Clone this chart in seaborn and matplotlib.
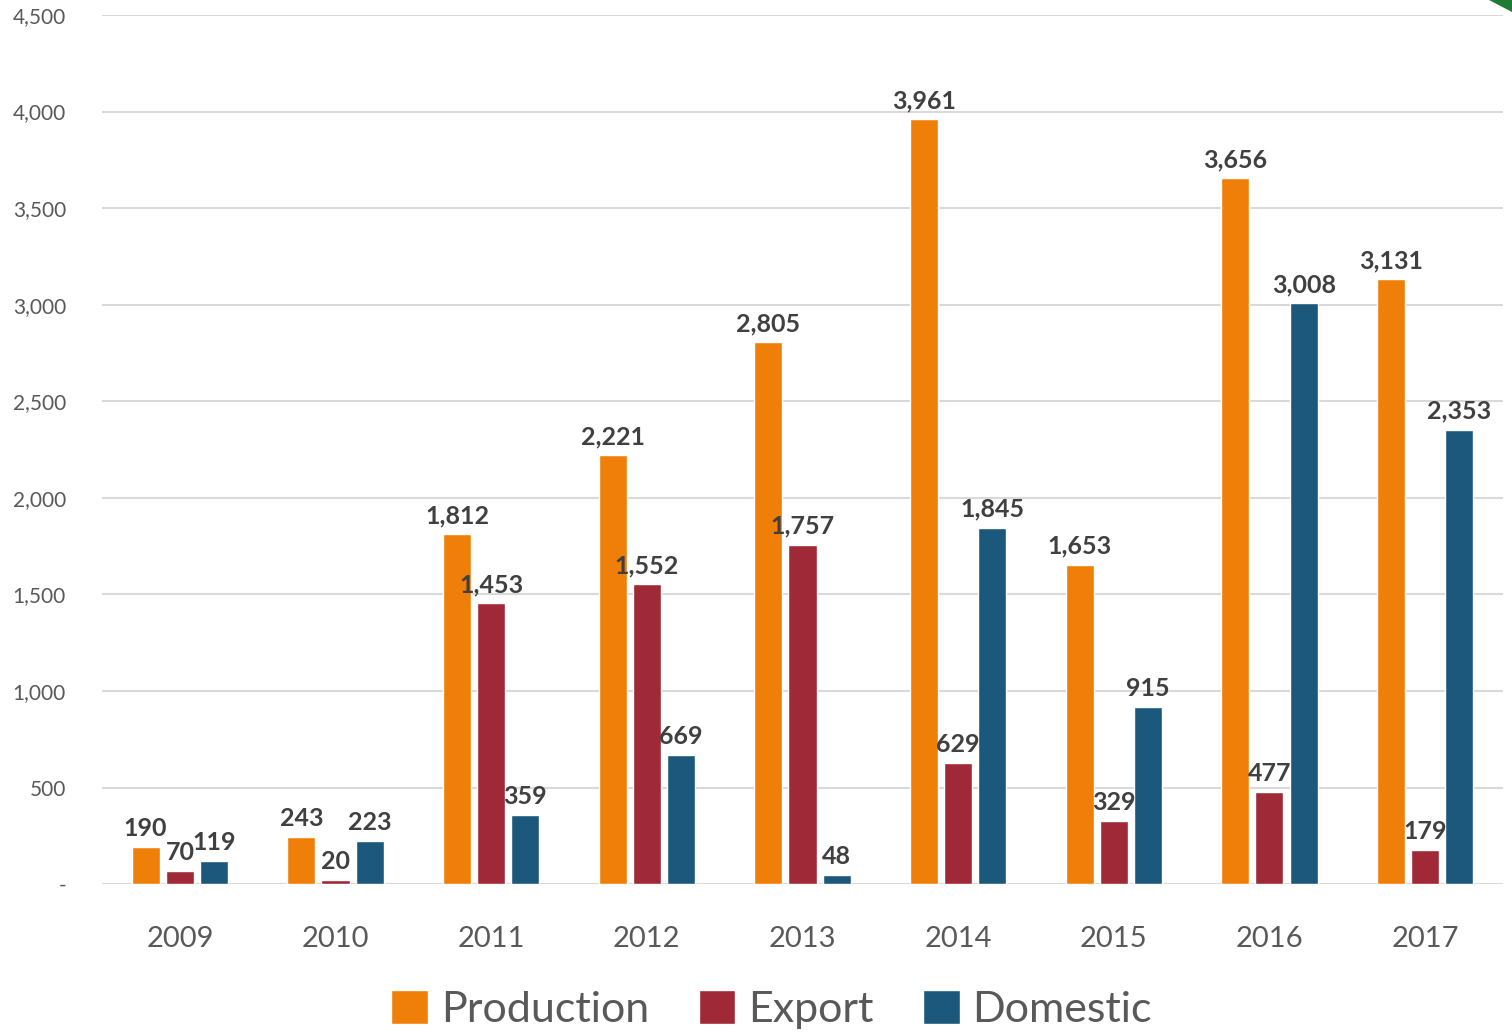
import pandas as pd
import matplotlib.pyplot as plt
import seaborn as sns
from matplotlib.patches import Polygon

years = ['2009', '2010', '2011', '2012', '2013', '2014', '2015', '2016', '2017']
production = [190, 243, 1812, 2221, 2805, 3961, 1653, 3656, 3131]
export = [70, 20, 1453, 1552, 1757, 629, 329, 477, 179]
domestic = [119, 223, 359, 669, 48, 1845, 915, 3008, 2353]
series = ['Production', 'Export', 'Domestic']
colors = ['#F07F09', '#9F2936', '#1B587C']
y_ticks = [0, 500, 1000, 1500, 2000, 2500, 3000, 3500, 4000, 4500]

df = pd.DataFrame({'year': years, 'Production': production,
                   'Export': export, 'Domestic': domestic})
long_df = df.melt(id_vars='year', var_name='series', value_name='value')

sns.set_style('white')
plt.rcParams['font.family'] = ['Lato', 'DejaVu Sans']

fig = plt.figure(figsize=(15.12, 10.34), dpi=100)
ax = fig.add_axes([0.0675, 0.145, 0.9265, 0.8405])

sns.barplot(data=long_df, x='year', y='value', hue='series', hue_order=series,
            palette=colors, width=0.66, gap=0.18, saturation=1, ax=ax,
            errorbar=None, legend=True)

for c in ax.containers:
    ax.bar_label(c, labels=[f'{v:,.0f}' for v in c.datavalues], padding=5,
                 fontsize=18, fontweight='bold', color='#404040')

ax.set_xlim(-0.5, 8.5)
ax.set_ylim(0, 4500)
ax.set_yticks(y_ticks)
ax.set_yticklabels(['-'] + [f'{v:,}' for v in y_ticks[1:]], fontsize=15, color='#595959')
ax.tick_params(axis='x', labelsize=21, labelcolor='#595959', pad=30, length=0)
ax.tick_params(axis='y', length=0, pad=26)
ax.yaxis.grid(True, color='#D9D9D9', linewidth=1.5)
ax.set_axisbelow(True)
ax.set_xlabel('')
ax.set_ylabel('')
sns.despine(ax=ax, left=True, top=True, right=True, bottom=True)

leg = ax.legend(loc='upper center', bbox_to_anchor=(0.478, -0.092), ncol=3,
                frameon=False, fontsize=31, handlelength=0.85, handleheight=0.85,
                handletextpad=0.3, columnspacing=1.15, borderpad=0.1)
for t in leg.get_texts():
    t.set_color('#595959')

# small green corner mark
fig.patches.append(Polygon([[0.985, 1.0], [1.0, 1.0], [1.0, 0.988]],
                           closed=True, transform=fig.transFigure,
                           facecolor='#1E7B34', edgecolor='none'))

fig.savefig('out.png', dpi=100)
